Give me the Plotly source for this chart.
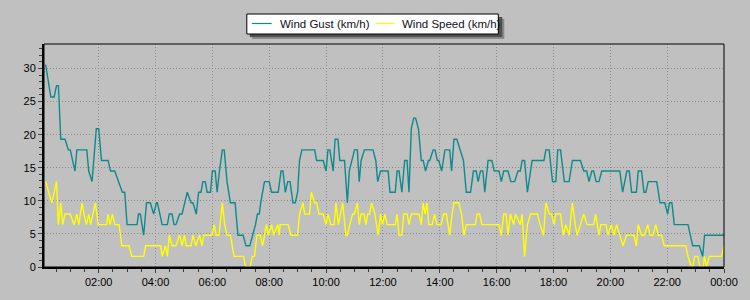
import plotly.graph_objects as go
import pandas as pd

# ---- data (minutes after midnight, km/h) ----
gust_minutes = [8, 19, 26, 31, 35, 40, 49, 56, 60, 70, 74, 95, 99, 106, 115, 120, 126, 140, 145, 154,
                162, 170, 175, 180, 201, 204, 208, 215, 221, 229, 236, 242, 244, 254, 265, 269, 275, 279, 283, 291,
                296, 302, 307, 315, 319, 326, 331, 336, 340, 345, 349, 356, 360, 366, 370, 375, 381, 385, 391, 398,
                408, 414, 425, 431, 439, 445, 451, 455, 459, 462, 470, 480, 485, 499, 505, 509, 514, 519, 524, 530,
                535, 540, 544, 549, 576, 580, 594, 600, 604, 608, 615, 619, 625, 629, 639, 645, 649, 660, 666, 670,
                674, 681, 699, 705, 709, 715, 731, 735, 746, 750, 754, 760, 766, 771, 775, 780, 785, 789, 795, 801,
                805, 810, 816, 819, 826, 830, 835, 838, 844, 851, 861, 865, 870, 876, 883, 890, 896, 905, 911, 917,
                921, 926, 931, 935, 942, 950, 955, 965, 970, 975, 984, 990, 998, 1005, 1010, 1014, 1019, 1025, 1035, 1060,
                1064, 1071, 1078, 1085, 1089, 1095, 1103, 1113, 1120, 1137, 1144, 1150, 1155, 1161, 1165, 1170, 1176, 1182, 1220, 1226,
                1235, 1240, 1245, 1255, 1259, 1266, 1271, 1275, 1280, 1298, 1305, 1315, 1321, 1325, 1330, 1335, 1364, 1374, 1388, 1395,
                1399, 1440]
gust_kmh = [30.6, 25.7, 25.7, 27.4, 27.4, 19.3, 19.3, 17.7, 17.7, 14.5, 17.7, 17.7, 14.5, 12.9, 20.9, 20.9, 16.1, 16.1, 14.5, 14.5,
            12.9, 11.3, 11.3, 6.4, 6.4, 8.0, 8.0, 4.8, 9.7, 9.7, 8.0, 9.7, 9.7, 6.4, 6.4, 8.0, 8.0, 6.4, 6.4, 8.0,
            8.0, 9.7, 11.3, 9.7, 9.7, 8.0, 11.3, 11.3, 12.9, 12.9, 11.3, 11.3, 14.5, 14.5, 11.3, 14.5, 17.7, 17.7, 12.9, 9.7,
            9.7, 4.8, 4.8, 3.2, 3.2, 4.8, 6.4, 8.0, 8.0, 9.7, 12.9, 12.9, 11.3, 11.3, 14.5, 14.5, 11.3, 12.9, 12.9, 9.7,
            9.7, 11.3, 16.1, 17.7, 17.7, 16.1, 16.1, 14.5, 17.7, 17.7, 14.5, 19.3, 19.3, 16.1, 16.1, 9.7, 14.5, 17.7, 17.7, 12.9,
            16.1, 17.7, 17.7, 16.1, 12.9, 14.5, 14.5, 11.3, 11.3, 14.5, 14.5, 11.3, 16.1, 16.1, 11.3, 20.9, 22.5, 22.5, 20.9, 16.1,
            16.1, 14.5, 16.1, 16.1, 17.7, 17.7, 16.1, 16.1, 14.5, 17.7, 17.7, 14.5, 19.3, 19.3, 17.7, 16.1, 11.3, 11.3, 14.5, 14.5,
            12.9, 14.5, 14.5, 11.3, 16.1, 16.1, 14.5, 14.5, 12.9, 14.5, 14.5, 12.9, 12.9, 14.5, 14.5, 16.1, 16.1, 11.3, 16.1, 16.1,
            17.7, 17.7, 12.9, 12.9, 17.7, 17.7, 12.9, 12.9, 16.1, 16.1, 14.5, 14.5, 12.9, 14.5, 14.5, 12.9, 12.9, 14.5, 14.5, 11.3,
            14.5, 14.5, 11.3, 11.3, 14.5, 14.5, 11.3, 11.3, 12.9, 12.9, 9.7, 9.7, 8.0, 9.7, 9.7, 6.4, 6.4, 3.2, 3.2, 1.6,
            4.8, 4.8]

speed_minutes = [8, 21, 31, 35, 40, 44, 49, 60, 68, 74, 78, 85, 89, 94, 99, 103, 113, 119, 137, 140,
                 144, 149, 154, 163, 169, 184, 190, 215, 219, 251, 254, 261, 265, 269, 275, 283, 291, 296, 301, 305,
                 315, 319, 325, 333, 338, 342, 359, 364, 368, 374, 381, 386, 391, 398, 402, 406, 426, 430, 440, 444,
                 449, 454, 461, 466, 474, 478, 485, 489, 498, 501, 503, 520, 526, 540, 544, 551, 555, 565, 569, 576,
                 580, 585, 594, 600, 604, 610, 617, 621, 626, 635, 642, 645, 650, 656, 660, 666, 670, 674, 680, 684,
                 688, 692, 696, 703, 710, 715, 719, 724, 729, 746, 750, 754, 760, 764, 771, 775, 780, 796, 801, 805,
                 809, 813, 817, 824, 829, 834, 843, 848, 854, 861, 866, 870, 880, 886, 891, 896, 915, 919, 924, 929,
                 965, 970, 975, 980, 984, 989, 996, 1000, 1010, 1014, 1019, 1025, 1032, 1046, 1052, 1059, 1064, 1071, 1076, 1081,
                 1085, 1095, 1101, 1106, 1113, 1120, 1126, 1130, 1137, 1144, 1151, 1165, 1169, 1176, 1180, 1191, 1195, 1202, 1208, 1213,
                 1220, 1227, 1234, 1250, 1255, 1259, 1266, 1272, 1279, 1284, 1290, 1296, 1301, 1308, 1314, 1359, 1364, 1371, 1374, 1378,
                 1385, 1389, 1396, 1399, 1403, 1409, 1435, 1440]
speed_kmh = [12.9, 9.7, 12.9, 6.4, 9.7, 6.4, 8.0, 8.0, 6.4, 8.0, 6.4, 9.7, 8.0, 6.4, 8.0, 6.4, 9.7, 6.4, 6.4, 8.0,
             6.4, 8.0, 6.4, 6.4, 3.2, 3.2, 1.6, 1.6, 3.2, 3.2, 1.6, 3.2, 1.6, 4.8, 3.2, 3.2, 4.8, 3.2, 4.8, 3.2,
             3.2, 4.8, 3.2, 4.8, 3.2, 4.8, 4.8, 6.4, 4.8, 4.8, 9.7, 6.4, 4.8, 4.8, 3.2, 1.6, 1.6, 0.0, 0.0, 1.6,
             1.6, 4.8, 4.8, 3.2, 6.4, 4.8, 6.4, 4.8, 6.4, 4.8, 6.4, 6.4, 4.8, 4.8, 8.0, 9.7, 8.0, 8.0, 11.3, 9.7,
             9.7, 8.0, 8.0, 6.4, 8.0, 6.4, 6.4, 9.7, 6.4, 9.7, 4.8, 4.8, 6.4, 8.0, 8.0, 9.7, 6.4, 8.0, 8.0, 6.4,
             8.0, 8.0, 9.7, 8.0, 4.8, 8.0, 6.4, 8.0, 6.4, 6.4, 8.0, 4.8, 4.8, 8.0, 8.0, 6.4, 8.0, 8.0, 6.4, 9.7,
             8.0, 9.7, 6.4, 6.4, 8.0, 6.4, 6.4, 8.0, 8.0, 4.8, 8.0, 9.7, 9.7, 8.0, 4.8, 6.4, 6.4, 8.0, 8.0, 6.4,
             6.4, 4.8, 8.0, 8.0, 4.8, 8.0, 6.4, 8.0, 6.4, 8.0, 1.6, 6.4, 8.0, 8.0, 6.4, 4.8, 9.7, 8.0, 8.0, 6.4,
             8.0, 8.0, 4.8, 6.4, 4.8, 9.7, 6.4, 4.8, 6.4, 8.0, 6.4, 6.4, 8.0, 4.8, 6.4, 6.4, 4.8, 6.4, 4.8, 6.4,
             4.8, 3.2, 4.8, 4.8, 3.2, 6.4, 4.8, 4.8, 6.4, 4.8, 4.8, 6.4, 4.8, 4.8, 3.2, 3.2, 1.6, 0.0, 0.0, 1.6,
             1.6, 0.0, 0.0, 1.6, 0.0, 1.6, 1.6, 3.2]

y_tick_values = [0, 5, 10, 15, 20, 25, 30]
series_names = ["Wind Gust (km/h)", "Wind Speed (km/h)"]
series_colors = ["#0f8a8a", "#ffff00"]

base = pd.Timestamp("2024-01-01 00:00")
gx = base + pd.to_timedelta(gust_minutes, unit="m")
sx = base + pd.to_timedelta(speed_minutes, unit="m")

BG = "#c0c0c0"
fig = go.Figure()
fig.add_trace(go.Scatter(x=gx, y=gust_kmh, mode="lines", name=series_names[0],
                         line=dict(color=series_colors[0], width=1.4), showlegend=False))
fig.add_trace(go.Scatter(x=sx, y=speed_kmh, mode="lines", name=series_names[1],
                         line=dict(color=series_colors[1], width=1.4), showlegend=False))

L, R, T, B = 44, 22, 44, 33
W, H = 750, 300
pw, ph = W - L - R, H - T - B

def px(xp):
    return (xp - L) / pw

def py(yp):
    return (H - B - yp) / ph

def prect(x0, y0, x1, y1, **kw):
    fig.add_shape(type="rect", xref="paper", yref="paper",
                  x0=px(x0), x1=px(x1), y0=py(y1), y1=py(y0), **kw)

# ---- legend box (drawn) ----
prect(253, 19, 507, 39, fillcolor="#8a8a8a", line=dict(width=0), layer="above")
prect(251, 17, 505, 37, fillcolor="#505050", line=dict(width=0), layer="above")
prect(248, 14, 501, 34, fillcolor="white", line=dict(color="black", width=1), layer="above")
legend_items = [(253, 273, 280), (378, 397, 403)]
for (lx0, lx1, tx), name, col in zip(legend_items, series_names, series_colors):
    fig.add_shape(type="line", xref="paper", yref="paper", x0=px(lx0), x1=px(lx1),
                  y0=py(23.5), y1=py(23.5), line=dict(color=col, width=1.2), layer="above")
    fig.add_annotation(xref="paper", yref="paper", x=px(tx - 1), y=py(24), xanchor="left",
                       yanchor="middle", text=name, showarrow=False,
                       font=dict(size=11.5, color="#101020"))

# plot frame (top/right thin)
fig.add_shape(type="rect", xref="paper", yref="paper", x0=0, x1=1, y0=0, y1=1,
              line=dict(color="black", width=1), layer="above")

GRID = "#8e8e8e"
fig.update_layout(
    width=W, height=H,
    margin=dict(l=L, r=R, t=T, b=B),
    paper_bgcolor=BG, plot_bgcolor=BG,
    font=dict(family="Liberation Sans, Arial, sans-serif", size=11, color="black"),
    showlegend=False,
    xaxis=dict(
        type="date",
        range=[base + pd.Timedelta(minutes=4.6), base + pd.Timedelta(minutes=1440)],
        tick0=base, dtick=2 * 3600 * 1000, tickformat="%H:%M",
        showgrid=True, gridcolor=GRID, griddash="1px,2px", gridwidth=1,
        showline=True, linecolor="black", linewidth=2,
        ticks="outside", ticklen=4, tickcolor="#404040", tickwidth=1,
        minor=dict(dtick=1800 * 1000, tick0=base, ticks="outside", ticklen=3,
                   tickcolor="#404040", showgrid=False),
        zeroline=False, fixedrange=True,
    ),
    yaxis=dict(
        range=[0, 33.7],
        tickvals=y_tick_values,
        showgrid=True, gridcolor=GRID, griddash="1px,2px", gridwidth=1,
        showline=True, linecolor="black", linewidth=2,
        ticks="outside", ticklen=4, tickcolor="#404040", tickwidth=1,
        minor=dict(dtick=1, ticks="outside", ticklen=3, tickcolor="#404040", showgrid=False),
        zeroline=False, fixedrange=True,
    ),
)

fig.write_html("out.html")
